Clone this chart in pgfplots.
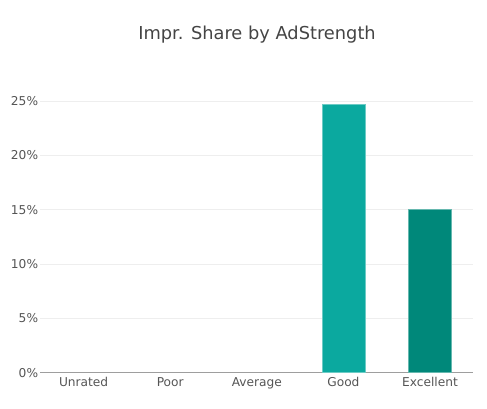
\documentclass[border=0pt]{standalone}
\usepackage{pgfplots}
\pgfplotsset{compat=1.18}
\usepackage{fontspec}
\setmainfont{DejaVu Sans}
\definecolor{goodc}{HTML}{0BA99F}
\definecolor{excc}{HTML}{00887A}
\definecolor{txt}{HTML}{444444}
\definecolor{tick}{HTML}{555555}
\definecolor{gridc}{HTML}{EEEEEE}
\definecolor{axc}{HTML}{9E9E9E}
\begin{document}
\begin{tikzpicture}[x=1pt,y=1pt]
\useasboundingbox (0,0) rectangle (487,409);
\node[text=txt,font=\fontsize{17.8}{20}\selectfont, anchor=base, inner sep=0pt] at (257,369.7) {Impr. Share by AdStrength};
\begin{axis}[
  at={(40.3pt,36.3pt)}, anchor=south west,
  scale only axis, width=433pt, height=282.6pt,
  xmin=-0.5, xmax=4.5, ymin=0, ymax=26,
  xtick={0,1,2,3,4},
  xticklabels={Unrated,Poor,Average,Good,Excellent},
  ytick={0,5,10,15,20,25},
  yticklabel={\pgfmathprintnumber{\tick}\%},
  /pgf/number format/assume math mode=true,
  ymajorgrids, grid style={gridc, line width=0.9pt},
  axis x line*=bottom, axis y line*=left,
  y axis line style={draw=none},
  x axis line style={axc, line width=1.4pt, -},
  major tick length=0pt,
  ticklabel style={text=tick, font=\fontsize{12.2}{14}\selectfont, inner sep=0pt},
  xticklabel style={anchor=base, yshift=-14pt},
  yticklabel style={anchor=east, xshift=-2pt},
  ybar, bar width=43pt, bar shift=0pt,
  clip=false,
]
\addplot[fill=goodc, draw=goodc!60!white, line width=0.5pt] coordinates {(3,24.70)};
\addplot[fill=excc, draw=excc!60!white, line width=0.5pt] coordinates {(4,15.06)};
\end{axis}
\end{tikzpicture}
\end{document}
